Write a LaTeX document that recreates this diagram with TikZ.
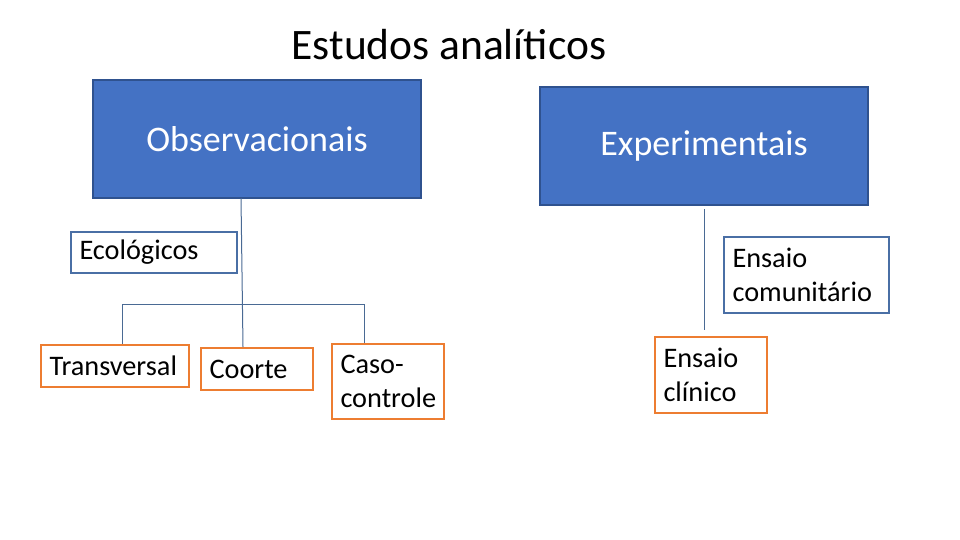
\documentclass[tikz,border=0pt]{standalone}
\usepackage{fontspec}
\setmainfont{Carlito}
\definecolor{mainblue}{HTML}{4472C4}
\definecolor{darkblue}{HTML}{2F528F}
\definecolor{midblue}{HTML}{4A6FA5}
\definecolor{orng}{HTML}{ED7D31}
\definecolor{linec}{HTML}{4A6A94}
\tikzset{
  bigbox/.style={draw=darkblue, fill=mainblue, line width=1.8pt, text=white, font=\fontsize{36}{42}\selectfont, inner sep=0pt},
  bluebox/.style={draw=midblue, fill=white, line width=1.8pt, font=\fontsize{28.3}{34}\selectfont, align=left, inner xsep=8.5pt, inner ysep=0pt},
  orangebox/.style={draw=orng, fill=white, line width=1.8pt, font=\fontsize{28.3}{34}\selectfont, align=left, inner xsep=8.5pt, inner ysep=0pt},
  conn/.style={draw=linec, line width=1pt}
}
\begin{document}
\begin{tikzpicture}[x=1pt,y=-1pt]
\useasboundingbox[fill=white] (0,0) rectangle (960,540);
\node[font=\fontsize{43.5}{50}\selectfont] (title) at (449,45) {Estudos analíticos};
\node[bigbox, minimum width=328pt, minimum height=118pt] (obs) at (257,139) {Observacionais};
\node[bigbox, minimum width=328pt, minimum height=118pt] (exp) at (704,146) {Experimentais};
\node[bluebox, text width=149pt, minimum height=41pt] (eco) at (154,252.5) {Ecológicos};
\node[bluebox, text width=148pt, minimum height=76pt] (ecom) at (806.5,275) {Ensaio\\comunitário};
\node[orangebox, text width=131pt, minimum height=42pt] (tr) at (115,366) {Transversal};
\node[orangebox, text width=95pt, minimum height=42pt] (co) at (257,369) {Coorte};
\node[orangebox, text width=95pt, minimum height=75pt] (cc) at (388,381.5) {Caso-\\controle};
\node[orangebox, text width=95pt, minimum height=76pt] (ecl) at (711,375) {Ensaio\\clínico};
\coordinate (hl) at (122,304);
\coordinate (hr) at (364,304);
\coordinate (ed) at (704,209);
\coordinate (eb) at (704,330);
\draw[conn] (241,198) -- (243,347);
\draw[conn] (hl) -- (hr);
\draw[conn] (hl) -- (tr.north -| hl);
\draw[conn] (hr) -- (cc.north -| hr);
\draw[conn] (ed) -- (eb);
\end{tikzpicture}
\end{document}
